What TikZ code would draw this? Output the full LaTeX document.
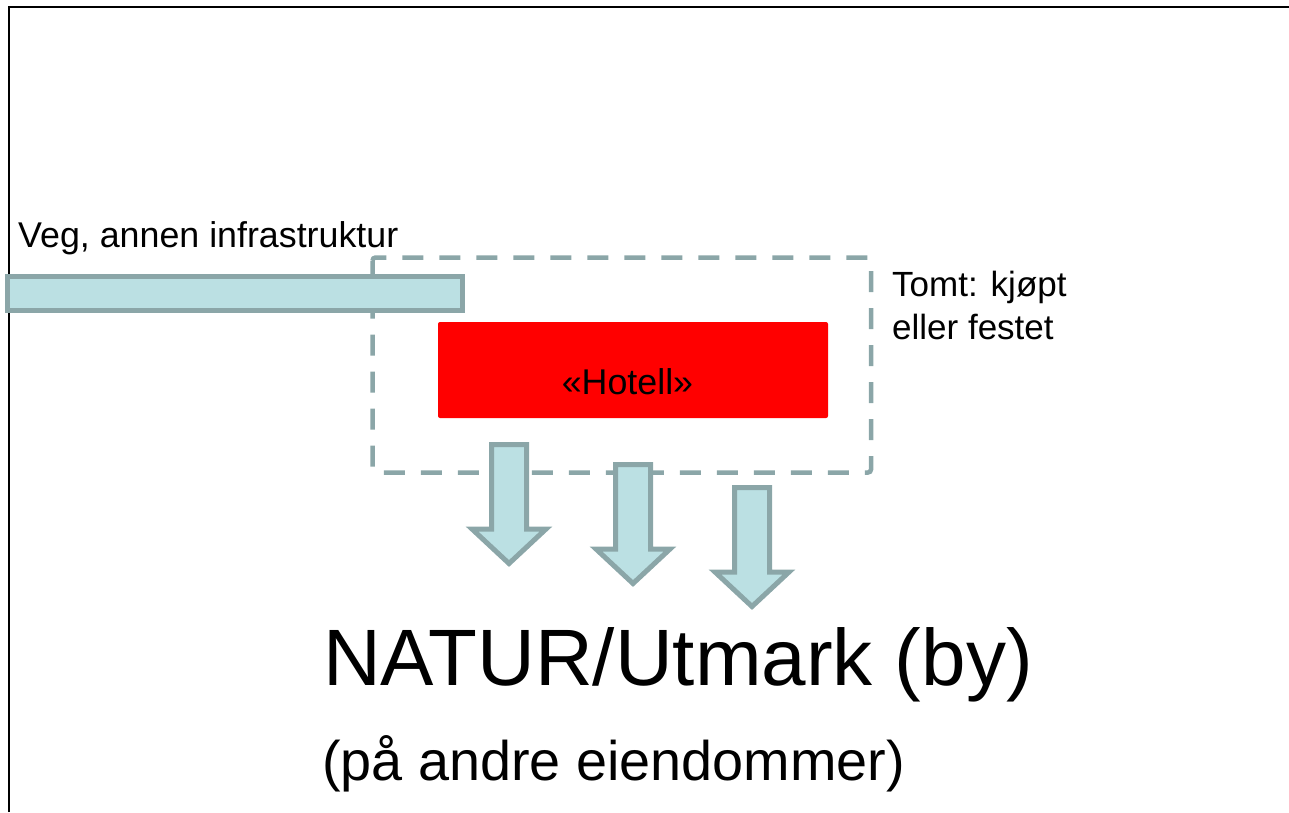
\documentclass[tikz,border=0pt]{standalone}
\usepackage{fontspec}
\setmainfont{Liberation Sans}
\definecolor{roadfill}{RGB}{187,224,227}
\definecolor{roadline}{RGB}{139,166,168}
\tikzset{
  roadbar/.style={draw=roadline, fill=roadfill, line width=5pt},
  plotline/.style={draw=roadline, line width=4.5pt, dash pattern=on 21pt off 16pt, rounded corners=3pt},
  hotelbox/.style={fill=red, rounded corners=2pt},
  flowarrow/.style={draw=roadline, fill=roadfill, line width=5pt},
  txt/.style={inner sep=0pt, anchor=base west, font=\fontsize{35.8}{43}\selectfont},
}
\begin{document}
\begin{tikzpicture}[x=1pt,y=-1pt]
    \useasboundingbox (0,0) rectangle (1289,812);
    % frame
    \draw[line width=2pt] (9.3,812) -- (9.3,7) -- (1289,7);
    % plot
    \draw[plotline] (372.5,257.5) rectangle (871,472.5);
    % road
    \draw[roadbar] (7.5,276.5) rectangle (462.5,310.5);
    \node[txt] (veg) at (18,247) {Veg, annen infrastruktur};
    % building
    \fill[hotelbox] (438,322) rectangle (828,418);
    \node[txt,anchor=base] (hotell) at (627.5,394) {«Hotell»};
    \node[txt,align=left,font=\fontsize{35}{43}\selectfont] (tomt) at (892,339) {Tomt: kjøpt\\eller festet};
    % runoff
    \foreach \xa/\ya in {509/444.5, 633/464.5, 752/487.5}
      \draw[flowarrow] (\xa-17.5,\ya) -- (\xa+17.5,\ya) -- (\xa+17.5,\ya+84.5) -- (\xa+37,\ya+84.5) -- (\xa,\ya+119) -- (\xa-37,\ya+84.5) -- (\xa-17.5,\ya+84.5) -- cycle;
    \node[txt,font=\fontsize{80}{96}\selectfont] (natur) at (323,685) {NATUR/Utmark (by)};
    \node[txt,font=\fontsize{55.8}{67}\selectfont] (andre) at (322,780) {(på andre eiendommer)};
\end{tikzpicture}
\end{document}
